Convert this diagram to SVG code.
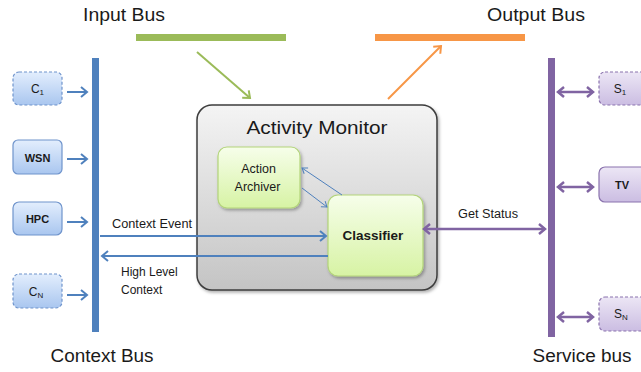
<svg xmlns="http://www.w3.org/2000/svg" width="641" height="372" viewBox="0 0 641 372">
  <style>
    .lbl { font-family: "Liberation Sans", Arial, sans-serif; fill: #1a1a1a; }
    .big { font-size: 18px; }
    .small { font-size: 12px; }
    .box-blue { fill: url(#gBlue); stroke: #6f94cc; stroke-width: 1.2; }
    .box-purple { fill: url(#gPurple); stroke: #8a72ad; stroke-width: 1.2; }
    .dashed { stroke-dasharray: 3 2; }
    .box-green { fill: url(#gGreen); stroke: #b3d47a; stroke-width: 1.2; }
    .blue-arrow { stroke: #4f81bd; stroke-width: 2; fill: none; marker-end: url(#headBlue); }
    .thin-arrow { stroke: #4f81bd; stroke-width: 1; fill: none; marker-end: url(#headThin); }
    .purple-arrow { stroke: #8064a2; stroke-width: 2.5; fill: none; marker-start: url(#headPurple); marker-end: url(#headPurple); }
  </style>
  <defs>
    <linearGradient id="gBlue" x1="0" y1="0" x2="0" y2="1">
      <stop offset="0" stop-color="#e3eefd"/>
      <stop offset="1" stop-color="#a9c6ef"/>
    </linearGradient>
    <linearGradient id="gPurple" x1="0" y1="0" x2="0" y2="1">
      <stop offset="0" stop-color="#ece6f5"/>
      <stop offset="1" stop-color="#cbbde2"/>
    </linearGradient>
    <linearGradient id="gGreen" x1="0" y1="0" x2="0" y2="1">
      <stop offset="0" stop-color="#f6feea"/>
      <stop offset="1" stop-color="#d7f3a4"/>
    </linearGradient>
    <linearGradient id="gGray" x1="0" y1="0" x2="0" y2="1">
      <stop offset="0" stop-color="#f4f4f4"/>
      <stop offset="1" stop-color="#c4c4c4"/>
    </linearGradient>
    <filter id="shadow" x="-10%" y="-10%" width="130%" height="130%">
      <feDropShadow dx="1.5" dy="2" stdDeviation="1.5" flood-color="#000" flood-opacity="0.3"/>
    </filter>
    <marker id="headBlue" markerUnits="userSpaceOnUse" markerWidth="12" markerHeight="12" refX="9" refY="6" orient="auto">
      <polyline points="3,1 9,6 3,11" fill="none" stroke="#4f81bd" stroke-width="2"/>
    </marker>
    <marker id="headThin" markerUnits="userSpaceOnUse" markerWidth="10" markerHeight="10" refX="8" refY="5" orient="auto">
      <polyline points="3,1.5 8,5 3,8.5" fill="none" stroke="#4f81bd" stroke-width="1"/>
    </marker>
    <marker id="headPurple" markerUnits="userSpaceOnUse" markerWidth="12" markerHeight="12" refX="10" refY="6" orient="auto-start-reverse">
      <polyline points="4,1 10,6 4,11" fill="none" stroke="#8064a2" stroke-width="2.5"/>
    </marker>
    <marker id="headGreen" markerUnits="userSpaceOnUse" markerWidth="12" markerHeight="12" refX="9" refY="6" orient="auto">
      <polyline points="3,1 9,6 3,11" fill="none" stroke="#9bbb59" stroke-width="2"/>
    </marker>
    <marker id="headOrange" markerUnits="userSpaceOnUse" markerWidth="12" markerHeight="12" refX="9" refY="6" orient="auto">
      <polyline points="3,1 9,6 3,11" fill="none" stroke="#f79646" stroke-width="2"/>
    </marker>
  </defs>

  <rect width="641" height="372" fill="#ffffff"/>

  <!-- buses -->
  <g id="input-bus">
    <text class="lbl big" x="124" y="21" text-anchor="middle" textLength="82" lengthAdjust="spacingAndGlyphs">Input Bus</text>
    <rect x="136" y="34" width="150" height="7" fill="#9bbb59"/>
  </g>
  <g id="output-bus">
    <text class="lbl big" x="536" y="21" text-anchor="middle" textLength="98" lengthAdjust="spacingAndGlyphs">Output Bus</text>
    <rect x="375" y="34" width="150" height="7" fill="#f79646"/>
  </g>
  <g id="context-bus">
    <rect x="92" y="58" width="7" height="274" fill="#4f81bd"/>
    <text class="lbl big" x="102" y="362" text-anchor="middle" textLength="103" lengthAdjust="spacingAndGlyphs">Context Bus</text>
  </g>
  <g id="service-bus">
    <rect x="548" y="58" width="7" height="279" fill="#8064a2"/>
    <text class="lbl big" x="582" y="362" text-anchor="middle" textLength="99" lengthAdjust="spacingAndGlyphs">Service bus</text>
  </g>

  <!-- context sources -->
  <g id="c1">
    <rect class="box-blue dashed" x="13" y="72" width="49" height="33" rx="6"/>
    <text class="lbl small" x="37.5" y="93" text-anchor="middle">C<tspan font-size="8" dy="2">1</tspan></text>
  </g>
  <g id="wsn">
    <rect class="box-blue" x="13" y="140" width="49" height="34" rx="5"/>
    <text class="lbl" x="37.5" y="162" text-anchor="middle" font-size="11" font-weight="bold">WSN</text>
  </g>
  <g id="hpc">
    <rect class="box-blue" x="13" y="202" width="49" height="33" rx="6"/>
    <text class="lbl" x="37.5" y="223" text-anchor="middle" font-size="11" font-weight="bold">HPC</text>
  </g>
  <g id="cn">
    <rect class="box-blue dashed" x="13" y="274" width="49" height="34" rx="6"/>
    <text class="lbl small" x="36" y="296" text-anchor="middle">C<tspan font-size="8" dy="2">N</tspan></text>
  </g>

  <!-- services -->
  <g id="s1">
    <rect class="box-purple dashed" x="599" y="72" width="50" height="33" rx="6"/>
    <text class="lbl small" x="620" y="93" text-anchor="middle">S<tspan font-size="8" dy="2">1</tspan></text>
  </g>
  <g id="tv">
    <rect class="box-purple" x="599" y="167" width="50" height="35" rx="6"/>
    <text class="lbl" x="622" y="189" text-anchor="middle" font-size="11" font-weight="bold">TV</text>
  </g>
  <g id="sn">
    <rect class="box-purple dashed" x="599" y="297" width="50" height="34" rx="6"/>
    <text class="lbl small" x="621" y="318" text-anchor="middle">S<tspan font-size="8" dy="2">N</tspan></text>
  </g>

  <!-- activity monitor -->
  <g id="activity-monitor">
    <rect x="197" y="105" width="240" height="185" rx="15" fill="url(#gGray)" stroke="#3c3c3c" stroke-width="1.5" filter="url(#shadow)"/>
    <text class="lbl" x="317" y="134" text-anchor="middle" font-size="19" textLength="141" lengthAdjust="spacingAndGlyphs">Activity Monitor</text>
  </g>
  <g id="action-archiver">
    <rect class="box-green" x="218" y="147" width="82" height="61" rx="9" filter="url(#shadow)"/>
    <text class="lbl" x="258.5" y="173" text-anchor="middle" font-size="12.5">Action</text>
    <text class="lbl" x="257.5" y="191" text-anchor="middle" font-size="12.5">Archiver</text>
  </g>
  <g id="classifier">
    <rect class="box-green" x="328" y="195" width="95" height="81" rx="10" filter="url(#shadow)"/>
    <text class="lbl" x="373" y="240" text-anchor="middle" font-size="13.5" font-weight="bold">Classifier</text>
  </g>

  <!-- connectors -->
  <g id="connectors">
    <line x1="197" y1="52" x2="250" y2="98" stroke="#9bbb59" stroke-width="2" marker-end="url(#headGreen)"/>
    <line x1="388" y1="99" x2="441" y2="46" stroke="#f79646" stroke-width="2" marker-end="url(#headOrange)"/>

    <line class="blue-arrow" x1="67" y1="92" x2="87" y2="92"/>
    <line class="blue-arrow" x1="67" y1="159" x2="87" y2="159"/>
    <line class="blue-arrow" x1="67" y1="222" x2="87" y2="222"/>
    <line class="blue-arrow" x1="67" y1="295" x2="87" y2="295"/>

    <line class="blue-arrow" x1="100" y1="236" x2="326" y2="236"/>
    <line class="blue-arrow" x1="328" y1="256" x2="102" y2="256"/>

    <line class="thin-arrow" x1="342" y1="195" x2="302" y2="168"/>
    <line class="thin-arrow" x1="302" y1="188" x2="327" y2="207"/>

    <line class="purple-arrow" x1="424" y1="229" x2="545" y2="229"/>
    <line class="purple-arrow" x1="558" y1="92" x2="593" y2="92"/>
    <line class="purple-arrow" x1="558" y1="187" x2="593" y2="187"/>
    <line class="purple-arrow" x1="558" y1="317" x2="593" y2="317"/>

    <text class="lbl" x="112" y="228" font-size="12" textLength="80" lengthAdjust="spacingAndGlyphs">Context Event</text>
    <text class="lbl" x="121" y="276" font-size="12">High Level</text>
    <text class="lbl" x="121" y="294" font-size="12">Context</text>
    <text class="lbl" x="488" y="218" text-anchor="middle" font-size="12" textLength="60" lengthAdjust="spacingAndGlyphs">Get Status</text>
  </g>
</svg>
